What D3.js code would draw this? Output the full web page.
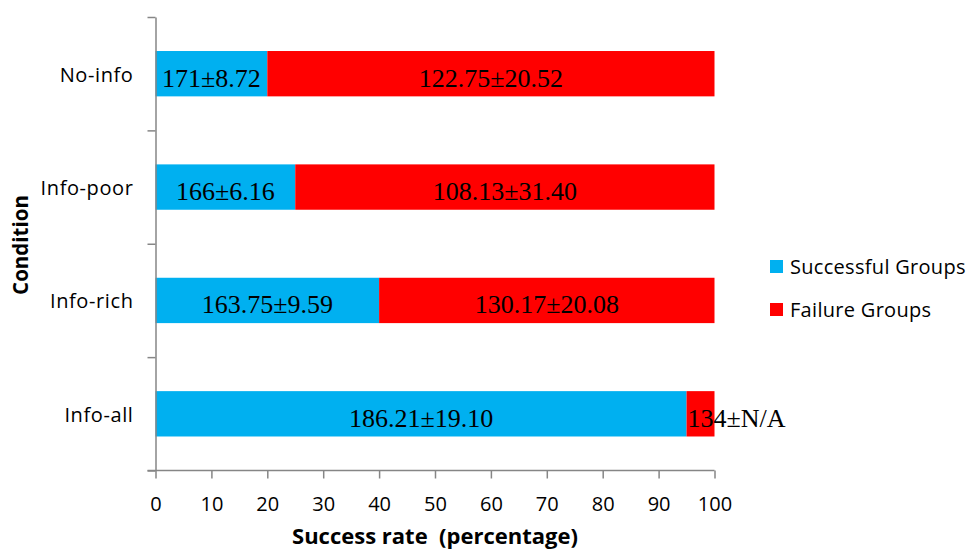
<!DOCTYPE html>
<html>
<head>
<meta charset="utf-8">
<script src="https://cdn.jsdelivr.net/npm/d3@7"></script>
<style>
  html, body { margin: 0; padding: 0; background: #fff; }
  svg { display: block; }
  .axis path, .axis line { stroke: #868686; stroke-width: 1.5; }
  .axis text { font-family: "Open Sans", sans-serif; font-size: 20px; fill: #000; }
</style>
</head>
<body>
<svg id="chart" width="966" height="551"></svg>
<script>
// Conditions, top to bottom
const conditions = ["No-info", "Info-poor", "Info-rich", "Info-all"];
// Share of groups (percent) per condition
const successRate = [20, 25, 40, 95];
const failureRate = [80, 75, 60, 5];
// Mean ± SD labels for each segment
const successLabels = ["171±8.72", "166±6.16", "163.75±9.59", "186.21±19.10"];
const failureLabels = ["122.75±20.52", "108.13±31.40", "130.17±20.08", "134±N/A"];
const xTicks = [0, 10, 20, 30, 40, 50, 60, 70, 80, 90, 100];
const seriesNames = ["Successful Groups", "Failure Groups"];
const seriesColors = ["#00B0F0", "#FF0000"];

const svg = d3.select("#chart");
const plotLeft = 155.5, plotRight = 714.5, plotTop = 17, plotBottom = 470.5;

const x = d3.scaleLinear().domain([0, 100]).range([plotLeft, plotRight]);
const y = d3.scaleBand().domain(conditions).range([plotTop, plotBottom])
  .paddingInner(0.6).paddingOuter(0.3);

// Stack the two series
const rows = conditions.map((c, i) => ({
  cond: c,
  success: successRate[i], failure: failureRate[i],
  sLab: successLabels[i], fLab: failureLabels[i]
}));
const stack = d3.stack().keys(["success", "failure"])(rows);

const layers = svg.append("g").selectAll("g").data(stack).join("g")
  .attr("fill", (d, i) => seriesColors[i]);
layers.selectAll("rect").data(d => d).join("rect")
  .attr("x", d => x(d[0]))
  .attr("width", d => x(d[1]) - x(d[0]))
  .attr("y", d => y(d.data.cond))
  .attr("height", y.bandwidth());

// Segment value labels
const labels = svg.append("g")
  .attr("font-family", "'Liberation Serif', 'Times New Roman', serif")
  .attr("font-size", 26)
  .attr("fill", "#000");
rows.forEach(r => {
  const cy = y(r.cond) + y.bandwidth() / 2;
  labels.append("text")
    .attr("x", x(r.success / 2))
    .attr("y", cy + 13)
    .attr("text-anchor", "middle")
    .text(r.sLab);
  const small = r.failure < 10;
  labels.append("text")
    .attr("x", small ? x(r.success) + 1 : x(r.success + r.failure / 2))
    .attr("y", cy + 13)
    .attr("text-anchor", small ? "start" : "middle")
    .text(r.fLab);
});

// X axis
const xAxis = svg.append("g").attr("class", "axis")
  .attr("transform", `translate(0,${plotBottom})`)
  .call(d3.axisBottom(x).tickValues(xTicks).tickSize(8).tickSizeOuter(0).tickPadding(18));
xAxis.select(".domain").attr("d", `M${plotLeft - 8},0H${plotRight}`);

// Y axis: tick marks between categories, labels at category centres
const yEdges = d3.scaleLinear().domain([0, conditions.length]).range([plotTop, plotBottom]);
svg.append("g").attr("class", "axis")
  .attr("transform", `translate(${plotLeft},0)`)
  .call(d3.axisLeft(yEdges).tickValues(d3.range(conditions.length + 1))
    .tickFormat("").tickSize(8).tickSizeOuter(0));
const yLab = svg.append("g").attr("class", "axis")
  .attr("transform", `translate(${plotLeft},0)`)
  .call(d3.axisLeft(y).tickSize(0).tickPadding(22));
yLab.select(".domain").remove();
yLab.selectAll("text").attr("dy", "0.4em").attr("letter-spacing", 0.6);

// Axis titles
svg.append("text")
  .attr("x", (plotLeft + plotRight) / 2).attr("y", 544)
  .attr("text-anchor", "middle")
  .attr("font-family", "'Open Sans', sans-serif")
  .attr("font-weight", "bold").attr("font-size", 22)
  .style("white-space", "pre")
  .text("Success rate  (percentage)");
svg.append("text")
  .attr("transform", "translate(28,245) rotate(-90)")
  .attr("text-anchor", "middle")
  .attr("font-family", "'Open Sans', sans-serif")
  .attr("font-weight", "bold").attr("font-size", 20.5)
  .text("Condition");

// Legend
const legend = svg.append("g").attr("transform", "translate(770,260)");
seriesNames.forEach((name, i) => {
  const g = legend.append("g").attr("transform", `translate(0,${i * 43})`);
  g.append("rect").attr("width", 13).attr("height", 13).attr("fill", seriesColors[i]);
  g.append("text").attr("x", 20).attr("y", 14)
    .attr("font-family", "'Open Sans', sans-serif").attr("font-size", 20)
    .attr("letter-spacing", 0.3)
    .attr("fill", "#000")
    .text(name);
});
</script>
</body>
</html>
